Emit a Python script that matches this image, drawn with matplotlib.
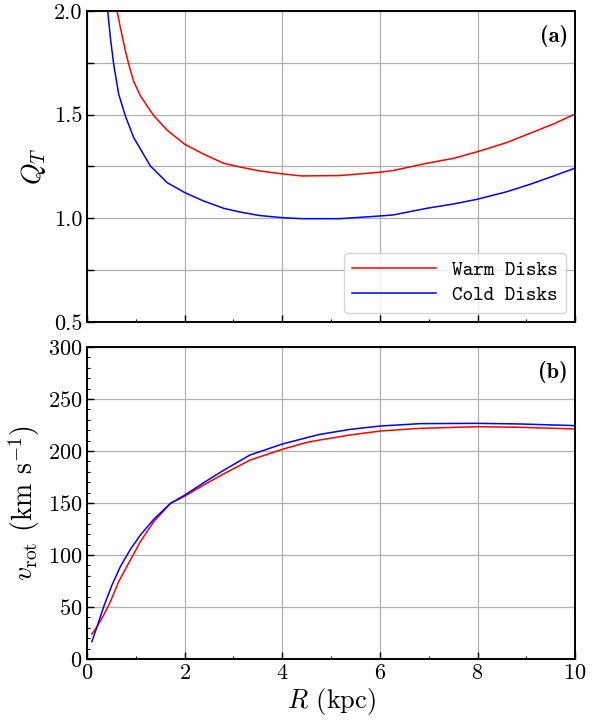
import numpy as np
import matplotlib
matplotlib.use('Agg')
import matplotlib.pyplot as plt
from matplotlib.ticker import MultipleLocator, FuncFormatter

plt.rcParams['font.family'] = 'serif'
plt.rcParams['font.serif'] = ['cmr10', 'DejaVu Serif']
plt.rcParams['mathtext.fontset'] = 'cm'
plt.rcParams['axes.formatter.use_mathtext'] = True

# Toomre Q profiles
r_warm_q = [0.615, 0.683, 0.786, 0.854, 0.956, 1.093, 1.366, 1.64, 2.0, 2.39, 2.80, 3.135, 3.54,
            4.0, 4.4, 5.18, 6.0, 6.27, 6.96, 7.51, 8.0, 8.6, 9.08, 9.56, 10.0]
q_warm = [2.0, 1.92, 1.807, 1.743, 1.66, 1.59, 1.495, 1.425, 1.357, 1.309, 1.265, 1.247, 1.228,
          1.214, 1.204, 1.206, 1.222, 1.23, 1.265, 1.289, 1.321, 1.365, 1.41, 1.455, 1.503]
r_cold_q = [0.424, 0.478, 0.546, 0.649, 0.786, 0.956, 1.298, 1.64, 2.0, 2.39, 2.80, 3.135, 3.54,
            4.0, 4.4, 5.18, 6.0, 6.27, 6.96, 7.51, 8.0, 8.6, 9.08, 9.56, 10.0]
q_cold = [2.0, 1.871, 1.743, 1.598, 1.493, 1.389, 1.252, 1.172, 1.124, 1.083, 1.048, 1.030, 1.013,
          1.003, 0.998, 0.998, 1.011, 1.016, 1.048, 1.069, 1.092, 1.128, 1.164, 1.204, 1.242]

# rotation curves
r_warm_v = [0.10, 0.205, 0.342, 0.478, 0.649, 0.888, 1.093, 1.366, 1.71, 2.0, 2.39, 2.80, 3.34,
            4.0, 4.5, 4.77, 5.39, 6.0, 6.82, 8.0, 8.87, 10.0]
v_warm = [24.0, 31.0, 42.3, 55.0, 74.4, 95.2, 112.8, 132.0, 149.7, 156.5, 167.3, 178.0, 191.3,
          201.6, 208.3, 210.6, 215.4, 219.2, 221.8, 223.4, 222.8, 221.2]
r_cold_v = [0.10, 0.205, 0.342, 0.512, 0.683, 0.888, 1.093, 1.366, 1.71, 2.0, 2.39, 2.80, 3.34,
            4.0, 4.5, 4.77, 5.39, 6.0, 6.82, 8.0, 8.87, 10.0]
v_cold = [16.7, 31.0, 50.3, 71.2, 88.8, 105.4, 119.2, 134.3, 149.7, 157.5, 169.5, 181.5, 196.2,
          206.7, 212.8, 216.0, 220.8, 224.0, 226.3, 226.6, 226.0, 224.4]

fig = plt.figure(figsize=(5.96, 7.21), dpi=100)
ax1 = fig.add_axes([0.146, 0.5534, 0.819, 0.4316])
ax2 = fig.add_axes([0.146, 0.086, 0.819, 0.4327])

for ax in (ax1, ax2):
    ax.set_xlim(0, 10)
    ax.xaxis.set_major_locator(MultipleLocator(2))
    ax.xaxis.set_minor_locator(MultipleLocator(1))
    ax.tick_params(which='both', direction='in', labelsize=16)
    ax.tick_params(which='major', length=5, width=1)
    ax.tick_params(which='minor', length=2.5, width=0.8)
    ax.grid(True, which='major', color='#b0b0b0', lw=0.9)
    for s in ax.spines.values():
        s.set_linewidth(1.4)

ax1.plot(r_warm_q, q_warm, color='red', lw=1.1, label='Warm Disks')
ax1.plot(r_cold_q, q_cold, color='blue', lw=1.1, label='Cold Disks')
ax1.set_ylim(0.5, 2.0)
ax1.yaxis.set_major_locator(MultipleLocator(0.25))
ax1.yaxis.set_major_formatter(FuncFormatter(lambda v, p: f'{v:.1f}' if abs(v * 2 - round(v * 2)) < 1e-6 else ''))
ax1.tick_params(labelbottom=False)
ax1.set_ylabel(r'$Q_T$', fontsize=20)
ax1.text(0.985, 0.955, '(a)', transform=ax1.transAxes, ha='right', va='top',
         fontsize=16, family=['cmb10', 'DejaVu Serif'])
leg = ax1.legend(loc='lower right', prop={'family': ['cmtt10', 'DejaVu Sans Mono'], 'size': 14.5},
                 fancybox=True, framealpha=0.8, edgecolor='#cccccc', handlelength=4.2,
                 labelspacing=0.3, borderaxespad=0.45)

ax2.plot(r_warm_v, v_warm, color='red', lw=1.1)
ax2.plot(r_cold_v, v_cold, color='blue', lw=1.1)
ax2.set_ylim(0, 300)
ax2.yaxis.set_major_locator(MultipleLocator(50))
ax2.yaxis.set_minor_locator(MultipleLocator(10))
ax2.set_ylabel(r'$v_{\rm rot}$ (km s$^{-1}$)', fontsize=20)
ax2.set_xlabel(r'$R$ (kpc)', fontsize=19, labelpad=2)
ax2.text(0.985, 0.955, '(b)', transform=ax2.transAxes, ha='right', va='top',
         fontsize=16, family=['cmb10', 'DejaVu Serif'])

fig.savefig('out.png', dpi=100)
